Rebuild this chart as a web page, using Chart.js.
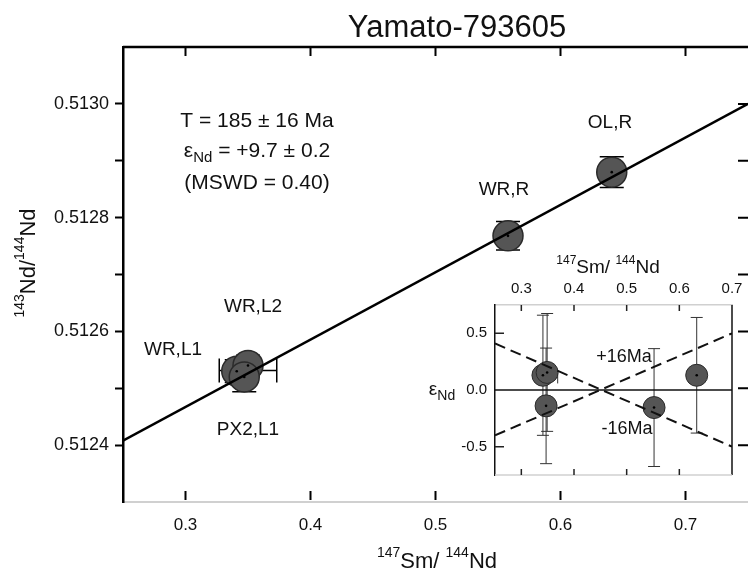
<!DOCTYPE html>
<html>
<head>
<meta charset="utf-8">
<script src="https://cdn.jsdelivr.net/npm/chart.js@4.4.0/dist/chart.umd.min.js"></script>
<style>
  html, body { margin: 0; padding: 0; background: #fff; }
  #wrap { position: relative; width: 748px; height: 577px; overflow: hidden; }
  #wrap canvas { position: absolute; left: 0; top: 0; }
</style>
</head>
<body>
<div id="wrap">
  <canvas id="mainChart" width="748" height="577"></canvas>
  <canvas id="insetChart" width="748" height="577"></canvas>
</div>
<script>
// ---- isochron data (main panel) ----
const sampleLabels = ["WR,L1", "WR,L2", "PX2,L1", "WR,R", "OL,R"];
const smNd = [0.341, 0.350, 0.347, 0.558, 0.641];
const ndNd = [0.51253, 0.51254, 0.51252, 0.512768, 0.51288];
const ndErr = [0.00002, 0.000018, 0.000026, 0.000025, 0.000027];
const smErr = [0, 0.023, 0, 0, 0];
const isoX = [0.25, 0.75];
const isoY = [0.512408, 0.513000];
const xTicks = [0.3, 0.4, 0.5, 0.6, 0.7];
const yTicks = [0.5124, 0.5125, 0.5126, 0.5127, 0.5128, 0.5129, 0.5130];
const yLabeled = [0.5124, 0.5126, 0.5128, 0.5130];

// ---- epsilon Nd data (inset) ----
const insetX = [0.341, 0.349, 0.347, 0.552, 0.633];
const epsNd = [0.13, 0.155, -0.14, -0.155, 0.13];
const epsErr = [0.53, 0.52, 0.51, 0.52, 0.51];
const insetXErr = [0, 0.02, 0, 0, 0];
const refX = [0.25, 0.70];
const zeroY = [0, 0];
const plus16Y = [-0.40, 0.50];
const minus16Y = [0.41, -0.50];
const insetXTicks = [0.3, 0.4, 0.5, 0.6, 0.7];
const insetYTicks = [-0.5, 0, 0.5];

const FONT = "'Liberation Sans', Arial, Helvetica, sans-serif";
Chart.defaults.font.family = FONT;
Chart.defaults.color = "#111";

const pts = (xs, ys) => xs.map((x, i) => ({ x: x, y: ys[i] }));

// no extra room for overhanging tick labels
function fixSize(prop, size) {
  return s => {
    s[prop] = size;
    s.paddingLeft = 0; s.paddingRight = 0; s.paddingTop = 0; s.paddingBottom = 0;
  };
}

// text with super/subscripts: parts = [[text, size, dy], ...]
function richText(ctx, parts, cx, cy) {
  let total = 0;
  parts.forEach(p => { ctx.font = p[1] + "px " + FONT; total += ctx.measureText(p[0]).width; });
  let x = cx - total / 2;
  ctx.textAlign = "left";
  ctx.textBaseline = "middle";
  parts.forEach(p => {
    ctx.font = p[1] + "px " + FONT;
    ctx.fillText(p[0], x, cy + (p[2] || 0));
    x += ctx.measureText(p[0]).width;
  });
}

function errorBars(chart, xs, ys, yErr, xErr, cap, color, width) {
  const { ctx, scales: { x, y } } = chart;
  ctx.save();
  ctx.strokeStyle = color;
  ctx.lineWidth = width;
  xs.forEach((xv, i) => {
    const px = x.getPixelForValue(xv);
    const top = y.getPixelForValue(ys[i] + yErr[i]);
    const bot = y.getPixelForValue(ys[i] - yErr[i]);
    ctx.beginPath();
    ctx.moveTo(px, top); ctx.lineTo(px, bot);
    ctx.moveTo(px - cap, top); ctx.lineTo(px + cap, top);
    ctx.moveTo(px - cap, bot); ctx.lineTo(px + cap, bot);
    if (xErr[i]) {
      const py = y.getPixelForValue(ys[i]) + 5;
      const l = x.getPixelForValue(xv - xErr[i]);
      const r = x.getPixelForValue(xv + xErr[i]);
      ctx.moveTo(l, py); ctx.lineTo(r, py);
      ctx.moveTo(l, py - cap); ctx.lineTo(l, py + cap);
      ctx.moveTo(r, py - cap); ctx.lineTo(r, py + cap);
    }
    ctx.stroke();
  });
  ctx.restore();
}

function centerDots(chart, xs, ys) {
  const { ctx, scales: { x, y } } = chart;
  ctx.save();
  ctx.fillStyle = "#000";
  xs.forEach((xv, i) => {
    ctx.beginPath();
    ctx.arc(x.getPixelForValue(xv), y.getPixelForValue(ys[i]), 1.3, 0, Math.PI * 2);
    ctx.fill();
  });
  ctx.restore();
}

const mainDecor = {
  id: "mainDecor",
  beforeDatasetsDraw(chart) {
    errorBars(chart, smNd, ndNd, ndErr, smErr, 12, "#000", 1.5);
  },
  afterDatasetsDraw(chart) {
    const { ctx, chartArea: a, scales: { x, y } } = chart;
    centerDots(chart, smNd, ndNd);
    ctx.save();
    ctx.strokeStyle = "#000";
    // top frame and inward ticks
    ctx.lineWidth = 2.5;
    ctx.beginPath(); ctx.moveTo(a.left, a.top); ctx.lineTo(a.right, a.top); ctx.stroke();
    ctx.lineWidth = 2;
    ctx.beginPath();
    xTicks.forEach(v => {
      const px = x.getPixelForValue(v);
      ctx.moveTo(px, a.top); ctx.lineTo(px, a.top + 9);
      ctx.moveTo(px, a.bottom - 2); ctx.lineTo(px, a.bottom - 11);
    });
    yTicks.forEach(v => {
      const py = y.getPixelForValue(v);
      ctx.moveTo(a.right, py); ctx.lineTo(a.right - 10, py);
    });
    ctx.stroke();

    ctx.fillStyle = "#111";
    richText(ctx, [["Yamato-793605", 31]], 457, 28);
    richText(ctx, [["T = 185 \u00b1 16 Ma", 21]], 257, 121);
    richText(ctx, [["\u03b5", 21], ["Nd", 15, 7], [" = +9.7 \u00b1 0.2", 21]], 257, 151);
    richText(ctx, [["(MSWD = 0.40)", 21]], 257, 183);

    const labelPos = [[173, 350], [253, 307], [248, 430], [504, 190], [610, 123]];
    sampleLabels.forEach((t, i) => richText(ctx, [[t, 19]], labelPos[i][0], labelPos[i][1]));

    richText(ctx, [["147", 14, -9], ["Sm/ ", 22], ["144", 14, -9], ["Nd", 22]], 437, 562);
    ctx.translate(29, 263);
    ctx.rotate(-Math.PI / 2);
    richText(ctx, [["143", 14, -9], ["Nd/", 22], ["144", 14, -9], ["Nd", 22]], 0, 0);
    ctx.restore();
  }
};

new Chart(document.getElementById("mainChart"), {
  type: "scatter",
  data: {
    datasets: [
      {
        type: "line",
        data: pts(isoX, isoY),
        borderColor: "#000",
        borderWidth: 2.5,
        pointRadius: 0,
        fill: false
      },
      {
        data: pts(smNd, ndNd),
        pointRadius: 15,
        backgroundColor: "#555",
        borderColor: "#2a2a2a",
        borderWidth: 1.5
      }
    ]
  },
  options: {
    responsive: false,
    animation: false,
    layout: { autoPadding: false, padding: { top: 47, right: 0, left: 0, bottom: 0 } },
    plugins: { legend: { display: false }, tooltip: { enabled: false } },
    scales: {
      x: {
        type: "linear",
        min: 0.25,
        max: 0.75,
        afterBuildTicks: axis => { axis.ticks = xTicks.map(v => ({ value: v })); },
        afterFit: fixSize("height", 75),
        grid: { drawOnChartArea: false, drawTicks: false },
        border: { color: "#d0d0d0", width: 2 },
        ticks: { padding: 13, font: { size: 17 }, callback: v => v.toFixed(1) }
      },
      y: {
        min: 0.5123,
        max: 0.5131,
        afterBuildTicks: axis => { axis.ticks = yTicks.map(v => ({ value: v })); },
        afterFit: fixSize("width", 123),
        grid: { drawOnChartArea: false, tickLength: 8, tickWidth: 2, tickColor: "#000" },
        border: { color: "#000", width: 2.5 },
        ticks: {
          padding: 6,
          autoSkip: false,
          font: { size: 18 },
          callback: v => yLabeled.some(t => Math.abs(t - v) < 1e-9) ? v.toFixed(4) : ""
        }
      }
    }
  },
  plugins: [mainDecor]
});

// ---- inset ----
const insetDecor = {
  id: "insetDecor",
  beforeDatasetsDraw(chart) {
    errorBars(chart, insetX, epsNd, epsErr, insetXErr, 6, "#333", 1);
  },
  afterDatasetsDraw(chart) {
    const { ctx, chartArea: a, scales: { x, y } } = chart;
    centerDots(chart, insetX, epsNd);
    ctx.save();
    ctx.lineWidth = 1.5;
    ctx.strokeStyle = "#111";
    ctx.beginPath(); ctx.moveTo(a.right, a.top); ctx.lineTo(a.right, a.bottom); ctx.stroke();
    ctx.strokeStyle = "#d0d0d0";
    ctx.beginPath(); ctx.moveTo(a.left, a.bottom); ctx.lineTo(a.right, a.bottom); ctx.stroke();
    ctx.strokeStyle = "#222";
    ctx.beginPath();
    insetXTicks.slice(0, 4).forEach(v => {
      const px = x.getPixelForValue(v);
      ctx.moveTo(px, a.top); ctx.lineTo(px, a.top + 6);
      ctx.moveTo(px, a.bottom); ctx.lineTo(px, a.bottom - 6);
    });
    [0.5, -0.5].forEach(v => {
      const py = y.getPixelForValue(v);
      ctx.moveTo(a.left, py); ctx.lineTo(a.left + 9, py);
    });
    ctx.stroke();

    ctx.fillStyle = "#111";
    richText(ctx, [["147", 12, -7], ["Sm/ ", 19], ["144", 12, -7], ["Nd", 19]], 608, 268);
    richText(ctx, [["\u03b5", 19], ["Nd", 14, 6]], 442, 390);
    richText(ctx, [["+16Ma", 18]], 624, 357);
    richText(ctx, [["-16Ma", 18]], 627, 429);
    ctx.restore();
  }
};

new Chart(document.getElementById("insetChart"), {
  type: "scatter",
  data: {
    datasets: [
      { type: "line", data: pts(refX, zeroY), borderColor: "#111", borderWidth: 1.5, pointRadius: 0 },
      { type: "line", data: pts(refX, plus16Y), borderColor: "#111", borderWidth: 2, borderDash: [11, 6], pointRadius: 0 },
      { type: "line", data: pts(refX, minus16Y), borderColor: "#111", borderWidth: 2, borderDash: [11, 6], pointRadius: 0 },
      {
        data: pts(insetX, epsNd),
        pointRadius: 11,
        backgroundColor: "#555",
        borderColor: "#2a2a2a",
        borderWidth: 1
      }
    ]
  },
  options: {
    responsive: false,
    animation: false,
    layout: { autoPadding: false, padding: { top: 265, right: 16, left: 435, bottom: 102 } },
    plugins: { legend: { display: false }, tooltip: { enabled: false } },
    scales: {
      x: {
        type: "linear",
        position: "top",
        min: 0.25,
        max: 0.70,
        afterBuildTicks: axis => { axis.ticks = insetXTicks.map(v => ({ value: v })); },
        afterFit: fixSize("height", 40),
        grid: { drawOnChartArea: false, drawTicks: false },
        border: { color: "#d0d0d0", width: 1.5 },
        ticks: { padding: 7, font: { size: 15 }, callback: v => v.toFixed(1) }
      },
      y: {
        min: -0.75,
        max: 0.75,
        afterBuildTicks: axis => { axis.ticks = insetYTicks.map(v => ({ value: v })); },
        afterFit: fixSize("width", 60),
        grid: { drawOnChartArea: false, drawTicks: false },
        border: { color: "#111", width: 1.5 },
        ticks: { padding: 8, font: { size: 15 }, callback: v => v.toFixed(1) }
      }
    }
  },
  plugins: [insetDecor]
});
</script>
</body>
</html>
